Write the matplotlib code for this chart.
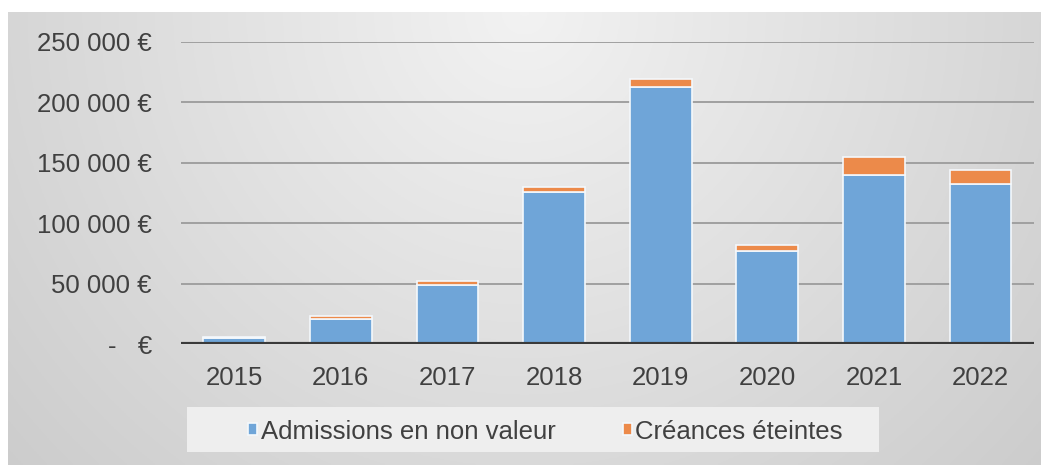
import numpy as np
import matplotlib.pyplot as plt
from matplotlib.patches import Rectangle
from matplotlib.ticker import FuncFormatter

plt.rcParams["font.family"] = ["Liberation Sans", "DejaVu Sans"]

years = ["2015", "2016", "2017", "2018", "2019", "2020", "2021", "2022"]
admissions = [5000, 20700, 48800, 126000, 212500, 77200, 139900, 132500]
creances = [600, 2600, 3000, 3600, 6500, 4600, 14500, 11500]

BLUE = "#6fa5d8"
ORANGE = "#ec8a4a"
FS = 18.5


def euro_fmt(v, pos):
    if v == 0:
        return "-   €"
    s = f"{int(v):,}".replace(",", " ")
    return s + " €"


fig = plt.figure(figsize=(10.49, 4.65), dpi=100)

# fond en degrade, plus clair en haut au centre
bg = fig.add_axes([0.008, 0.0, 0.984, 0.975])
nx, ny = 400, 200
gx, gy = np.meshgrid(np.linspace(-1, 1, nx), np.linspace(0, 1, ny))
dist = np.sqrt((gx * 0.9) ** 2 + (gy * 0.8) ** 2)
shade = 0.95 - 0.16 * np.clip(dist, 0, 1.3) / 1.3
bg.imshow(np.dstack([shade] * 3), aspect="auto", extent=[0, 1, 0, 1], origin="upper")
bg.set_axis_off()

ax = fig.add_axes([0.1725, 0.26, 0.813, 0.65])
ax.patch.set_alpha(0)
x = np.arange(len(years))
ax.bar(x, admissions, width=0.58, color=BLUE, edgecolor="#f4f8fc", linewidth=1.2,
       label="Admissions en non valeur", zorder=3)
ax.bar(x, creances, width=0.58, bottom=admissions, color=ORANGE, edgecolor="#f4f8fc",
       linewidth=1.2, label="Créances éteintes", zorder=3)

ax.set_ylim(0, 250000)
ax.set_xlim(-0.5, len(years) - 0.5)
ax.set_yticks(np.arange(0, 250001, 50000))
ax.yaxis.set_major_formatter(FuncFormatter(euro_fmt))
ax.set_xticks(x)
ax.set_xticklabels(years)
ax.grid(axis="y", color="#a0a0a0", linewidth=1.4, zorder=0)
ax.axhline(0, color="#3a3a3a", linewidth=3, zorder=4)
for sp in ax.spines.values():
    sp.set_visible(False)
ax.tick_params(length=0, labelsize=FS, colors="#404040")
ax.tick_params(axis="y", pad=21)
ax.tick_params(axis="x", pad=16)

# cadre de la legende
fig.patches.append(Rectangle((0.178, 0.027), 0.66, 0.098, transform=fig.transFigure,
                             facecolor="#eeeeee", edgecolor="none", zorder=1))
leg = fig.legend(loc="center", bbox_to_anchor=(0.52, 0.072), ncol=2, frameon=False,
                 fontsize=FS, handlelength=0.35, handleheight=0.35, handletextpad=0.15,
                 columnspacing=2.6, labelcolor="#404040")

fig.savefig("out.png", dpi=100, facecolor="white")
